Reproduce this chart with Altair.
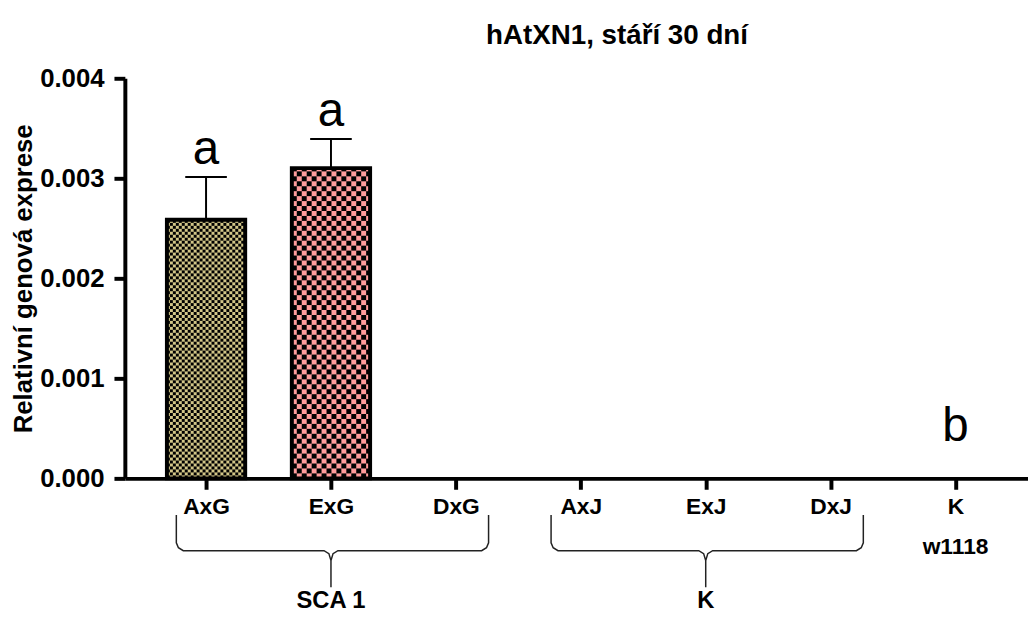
import altair as alt
import pandas as pd
import numpy as np

# ---------------- data ----------------
categories = ["AxG", "ExG", "DxG", "AxJ", "ExJ", "DxJ", "K"]
means = [0.002585, 0.003102, 0.0, 0.0, 0.0, 0.0, 0.0]
sems = [0.000427, 0.000290, 0.0, 0.0, 0.0, 0.0, 0.0]
base_colors = ["#d2c688", "#ff9c9c", "#ffffff", "#ffffff", "#ffffff", "#ffffff", "#ffffff"]
checker_px = [3, 5, 0, 0, 0, 0, 0]
letters = ["a", "a", "", "", "", "", "b"]
letter_y = [0.003142, 0.003521, None, None, None, None, 0.000369]
group_names = ["SCA 1", "K"]
group_first = [0, 3]
group_last = [2, 5]
extra_label_pos = [6]
extra_label_text = ["w1118"]

# ---------------- layout constants ----------------
FONT = "Liberation Sans"
H = 404
X_DOM = [-0.65, 6.58]
PX = 126.1                             # pixels per category unit
W = int(round((X_DOM[1] - X_DOM[0]) * PX))
Y_MAX = 0.004
HW_PX = 39.5                           # half bar width in px
HW = HW_PX / PX
CAP = 21 / PX


def px_below_axis(p):
    return -p / H * Y_MAX


bars = pd.DataFrame({
    "pos": list(range(len(categories))),
    "cat": categories,
    "mean": means,
    "sem": sems,
    "color": base_colors,
    "letter": letters,
    "ly": letter_y,
})
bars["xl"] = bars["pos"] - HW
bars["xr"] = bars["pos"] + HW
bars["cl"] = bars["pos"] - CAP
bars["cr"] = bars["pos"] + CAP
bars["upper"] = bars["mean"] + bars["sem"]
bars["zero"] = 0.0
filled = bars[bars["mean"] > 0]

# checkerboard cells (decoration of the filled bars)
cells = []
for i, (m, c) in enumerate(zip(means, checker_px)):
    if m <= 0 or c <= 0:
        continue
    h_px = m / Y_MAX * H
    ncol = int(np.ceil(2 * HW_PX / c))
    nrow = int(np.ceil(h_px / c))
    for r in range(nrow):
        for k in range(ncol):
            if (r + k) % 2 == 0:
                x0 = -HW_PX + k * c
                x1 = min(x0 + c, HW_PX)
                y0 = r * c
                y1 = min(y0 + c, h_px)
                cells.append({"x": i + x0 / PX, "x2": i + x1 / PX,
                              "y": y0 / H * Y_MAX, "y2": y1 / H * Y_MAX})
cells = pd.DataFrame(cells)

# curly braces under groups
brace_rows = []
for g, (a, b) in enumerate(zip(group_first, group_last)):
    x0 = a - 30 / PX
    x1 = b + 33 / PX
    xm = (a + b) / 2
    rx = 7 / PX
    top, arm, tip = 37, 73, 110
    pts = [
        (x0, top), (x0, arm - 8), (x0 + rx * 0.3, arm - 3), (x0 + rx, arm),
        (xm - rx, arm), (xm - rx * 0.3, arm + 3), (xm, arm + 10), (xm, tip),
        (xm, arm + 10), (xm + rx * 0.3, arm + 3), (xm + rx, arm),
        (x1 - rx, arm), (x1 - rx * 0.3, arm - 3), (x1, arm - 8), (x1, top),
    ]
    for j, (px_, py_) in enumerate(pts):
        brace_rows.append({"g": g, "o": j, "x": px_, "y": px_below_axis(py_)})
braces = pd.DataFrame(brace_rows)

groups_df = pd.DataFrame({
    "x": [(a + b) / 2 for a, b in zip(group_first, group_last)],
    "name": group_names,
})
extra_df = pd.DataFrame({"x": extra_label_pos, "t": extra_label_text})

labels_js = "[" + ",".join(f"'{c}'" for c in categories) + "]"

xscale = alt.Scale(domain=X_DOM, nice=False, zero=False)
yscale = alt.Scale(domain=[0, Y_MAX], nice=False)

x_axis = alt.Axis(
    values=list(range(len(categories))),
    labelExpr=f"{labels_js}[datum.value]",
    title=None, grid=False,
    domainWidth=4, domainColor="black",
    tickWidth=4, tickColor="black", tickSize=11,
    labelFont=FONT, labelFontSize=23, labelFontWeight="bold", labelColor="black",
    labelPadding=6,
)
y_axis = alt.Axis(
    values=[0, 0.001, 0.002, 0.003, 0.004], format=".3f",
    title="Relativní genová exprese", grid=False,
    domainWidth=4, domainColor="black",
    tickWidth=4, tickColor="black", tickSize=11,
    labelFont=FONT, labelFontSize=26, labelFontWeight="bold", labelColor="black",
    labelPadding=10,
    titleFont=FONT, titleFontSize=26, titleFontWeight="bold", titleColor="black",
    titlePadding=3,
)

bar_fill = alt.Chart(filled).mark_rect(strokeWidth=0).encode(
    x=alt.X("xl:Q", scale=xscale, axis=x_axis),
    x2="xr:Q",
    y=alt.Y("mean:Q", scale=yscale, axis=y_axis),
    y2="zero:Q",
    fill=alt.Fill("color:N", scale=None),
)

checker = alt.Chart(cells).mark_rect(color="black", strokeWidth=0).encode(
    x="x:Q", x2="x2:Q", y="y:Q", y2="y2:Q",
)

outline = alt.Chart(filled).mark_rect(fillOpacity=0, stroke="black", strokeWidth=4).encode(
    x="xl:Q", x2="xr:Q", y="mean:Q", y2="zero:Q",
)

stem = alt.Chart(filled).mark_rule(color="black", strokeWidth=2).encode(
    x="pos:Q", y="mean:Q", y2="upper:Q",
)
cap = alt.Chart(filled).mark_rule(color="black", strokeWidth=2).encode(
    x="cl:Q", x2="cr:Q", y="upper:Q",
)

letter_marks = alt.Chart(bars[bars["letter"] != ""]).mark_text(
    font=FONT, fontSize=48, color="black", baseline="alphabetic", align="center"
).encode(x="pos:Q", y="ly:Q", text="letter:N")

brace_marks = alt.Chart(braces).mark_line(
    color="#222222", strokeWidth=1.5, clip=False
).encode(x="x:Q", y="y:Q", detail="g:N", order="o:Q")

group_text = alt.Chart(groups_df).mark_text(
    font=FONT, fontSize=24, fontWeight="bold", color="black", baseline="middle"
).encode(x="x:Q", y=alt.value(H + 124), text="name:N")

extra_text = alt.Chart(extra_df).mark_text(
    font=FONT, fontSize=23, fontWeight="bold", color="black", baseline="middle"
).encode(x="x:Q", y=alt.value(H + 69), text="t:N")

chart = alt.layer(
    bar_fill, checker, outline, stem, cap, letter_marks, brace_marks, group_text, extra_text
).properties(
    width=W, height=H,
    padding={"left": 2, "top": 11, "right": 0, "bottom": 0},
    title=alt.TitleParams(
        "hAtXN1, stáří 30 dní", font=FONT, fontSize=28, fontWeight="bold",
        color="black", anchor="middle", frame="group", dx=41, offset=16,
    ),
).configure(font=FONT).configure_view(stroke=None)

chart.save("out.html", embed_options={"renderer": "svg", "actions": False})
